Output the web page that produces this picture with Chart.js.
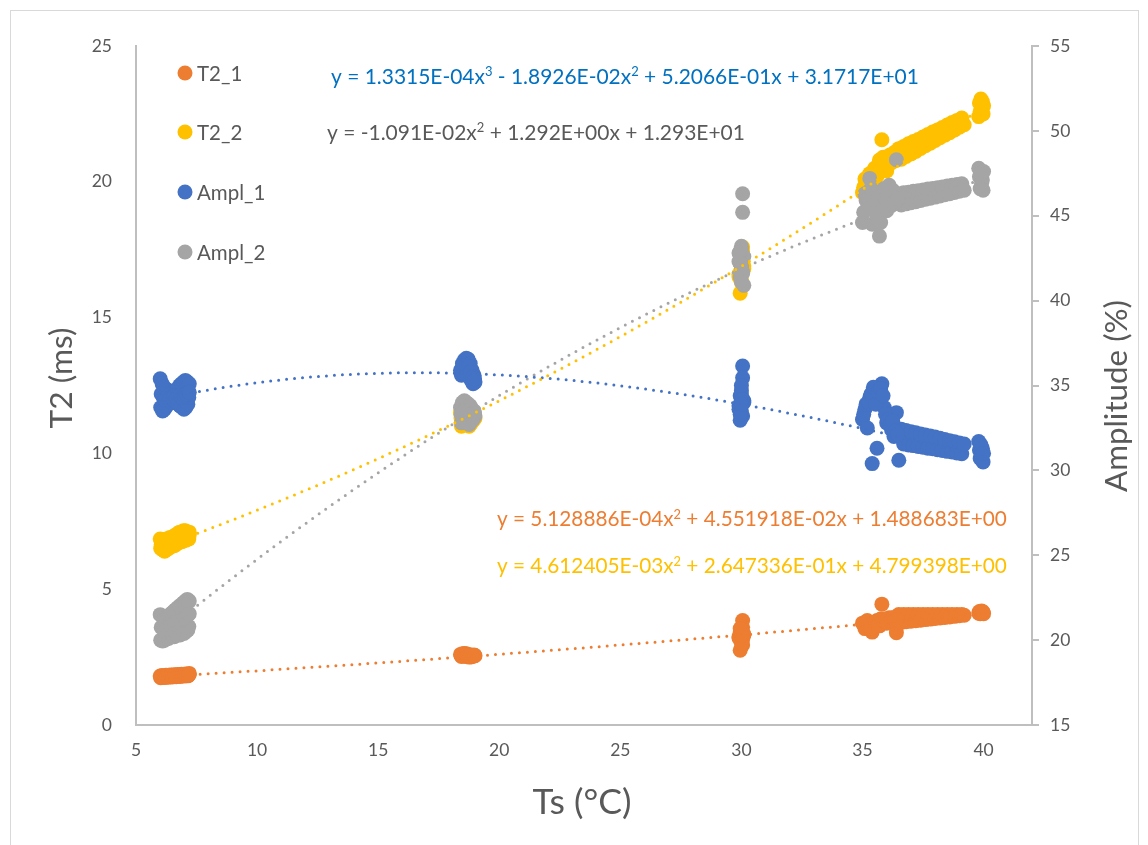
<!DOCTYPE html>
<html>
<head>
<meta charset="utf-8">
<script src="https://cdn.jsdelivr.net/npm/chart.js@4.4.1/dist/chart.umd.min.js"></script>
<style>
  html, body { margin: 0; padding: 0; background: #ffffff; }
  canvas { display: block; }
</style>
</head>
<body>
<canvas id="chart" width="1148" height="845"></canvas>
<script>
// Sample temperature Ts (°C), shared by all four measured series
const ts = [
  // ~6 °C
  6.0, 6.08, 6.16, 6.24, 6.32, 6.4, 6.48, 6.56, 6.64, 6.72, 6.8, 6.88, 6.96, 7.04, 7.12, 7.2,
  6.02, 6.1, 6.18, 6.26, 6.34, 6.42, 6.5, 6.58, 6.66, 6.74, 6.82, 6.9, 6.98, 7.06, 7.14, 7.18,
  6.04, 6.12, 6.2, 6.28, 6.36, 6.44, 6.52, 6.6, 6.68, 6.76, 6.84, 6.92, 7.0, 7.08, 7.16, 7.2,
  // ~18.7 °C
  18.4, 18.48, 18.56, 18.64, 18.72, 18.8, 18.88, 18.96,
  18.44, 18.52, 18.6, 18.68, 18.76, 18.84, 18.92, 19.0,
  18.42, 18.5, 18.58, 18.66, 18.74, 18.82, 18.9, 18.98,
  // ~30 °C
  30.05, 30.05, 30.0, 29.95, 30.1, 29.9, 30.0, 30.05, 29.95, 30.0, 30.1, 29.9, 29.95, 30.05, 30.0, 30.0,
  // 35 - 39.2 °C ramp
  35.0, 35.1, 35.2, 35.3, 35.4, 35.5, 35.6, 35.7, 35.8, 35.9,
  36.0, 36.1, 36.2, 36.3, 36.4, 36.5, 36.6, 36.7, 36.8, 36.9,
  37.0, 37.1, 37.2, 37.3, 37.4, 37.5, 37.6, 37.7, 37.8, 37.9,
  38.0, 38.1, 38.2, 38.3, 38.4, 38.5, 38.6, 38.7, 38.8, 38.9,
  39.0, 39.1, 39.2,
  35.05, 35.15, 35.25, 35.35, 35.45, 35.55, 35.65, 35.75, 35.85, 35.95,
  36.05, 36.15, 36.25, 36.35, 36.45,
  // ~40 °C
  39.8, 39.83, 39.86, 39.89, 39.92, 39.95, 39.98, 40.0
];

// T2 relaxation times (ms), left axis
const t2_1 = [
  1.80, 1.82, 1.80, 1.83, 1.82, 1.84, 1.83, 1.85, 1.84, 1.86, 1.85, 1.87, 1.86, 1.88, 1.87, 1.90,
  1.74, 1.76, 1.75, 1.77, 1.76, 1.78, 1.77, 1.79, 1.78, 1.80, 1.79, 1.81, 1.80, 1.82, 1.81, 1.84,
  1.77, 1.79, 1.78, 1.80, 1.79, 1.81, 1.80, 1.82, 1.81, 1.83, 1.82, 1.84, 1.83, 1.85, 1.84, 1.87,
  2.60, 2.62, 2.63, 2.62, 2.60, 2.58, 2.57, 2.58,
  2.52, 2.54, 2.53, 2.52, 2.50, 2.51, 2.53, 2.55,
  2.56, 2.58, 2.58, 2.57, 2.55, 2.55, 2.55, 2.56,
  3.85, 3.6, 3.5, 3.4, 3.3, 3.2, 3.1, 2.95, 2.75, 3.45, 3.35, 3.25, 3.55, 3.15, 3.0, 3.3,
  3.75, 3.55, 3.85, 3.6, 3.42, 3.75, 3.85, 3.65, 4.45, 3.9,
  3.75, 3.95, 3.8, 3.95, 3.4, 4.07, 3.78, 4.07, 3.80, 4.07,
  3.82, 4.07, 3.84, 4.07, 3.86, 4.07, 3.88, 4.07, 3.90, 4.07,
  3.92, 4.07, 3.94, 4.07, 3.96, 4.07, 3.98, 4.07, 4.0, 4.07,
  4.02, 4.07, 4.04,
  3.7, 3.8, 3.65, 3.55, 3.75, 3.8, 3.7, 3.9, 3.85, 3.8,
  3.9, 3.85, 3.95, 3.88, 3.9,
  4.12, 4.18, 4.1, 4.15, 4.2, 4.12, 4.16, 4.1
];
const t2_2 = [
  6.85, 6.8, 6.8, 6.85, 6.85, 6.9, 6.9, 6.95, 7.0, 7.05, 7.1, 7.1, 7.15, 7.15, 7.1, 7.1,
  6.5, 6.45, 6.4, 6.45, 6.5, 6.55, 6.6, 6.6, 6.65, 6.7, 6.75, 6.75, 6.8, 6.8, 6.85, 6.85,
  6.65, 6.6, 6.6, 6.65, 6.7, 6.7, 6.75, 6.8, 6.8, 6.85, 6.9, 6.95, 6.95, 7.0, 7.0, 7.0,
  11.5, 11.6, 11.5, 11.4, 11.5, 11.6, 11.5, 11.4,
  11.0, 11.1, 11.2, 11.1, 11.0, 11.1, 11.2, 11.3,
  11.3, 11.3, 11.35, 11.3, 11.25, 11.3, 11.35, 11.3,
  17.6, 17.45, 17.2, 17.0, 16.8, 16.6, 16.4, 16.2, 15.9, 17.3, 16.9, 16.5, 17.1, 16.7, 17.4, 16.3,
  19.6, 20.1, 19.8, 20.3, 19.9, 20.5, 20.2, 20.8, 21.55, 20.6,
  20.4, 20.9, 20.7, 21.0, 20.8, 21.22, 20.83, 21.30, 20.93, 21.40,
  21.03, 21.48, 21.12, 21.56, 21.23, 21.65, 21.33, 21.74, 21.42, 21.83,
  21.52, 21.91, 21.62, 22.0, 21.72, 22.09, 21.81, 22.18, 21.91, 22.26,
  22.01, 22.35, 22.10,
  19.8, 20.0, 20.2, 20.0, 20.4, 20.3, 20.6, 20.5, 20.9, 20.7,
  20.8, 21.0, 20.9, 21.1, 20.95,
  22.4, 22.9, 22.6, 23.05, 22.7, 22.95, 22.5, 22.8
];

// Signal amplitudes (%), right axis
const ampl_1 = [
  35.4, 35.1, 34.9, 34.8, 34.7, 34.6, 34.6, 34.6, 34.7, 34.8, 35.0, 35.1, 35.2, 35.3, 35.2, 35.1,
  33.7, 33.5, 33.6, 33.8, 33.9, 34.0, 34.0, 34.1, 34.0, 33.9, 33.8, 33.7, 33.6, 33.7, 33.9, 34.3,
  34.5, 34.3, 34.2, 34.3, 34.4, 34.3, 34.3, 34.4, 34.3, 34.4, 34.4, 34.3, 34.4, 34.5, 34.6, 34.6,
  35.9, 36.3, 36.5, 36.6, 36.55, 36.3, 35.9, 35.6,
  35.6, 35.9, 35.9, 35.8, 35.6, 35.3, 35.1, 35.2,
  35.75, 36.1, 36.2, 36.2, 36.1, 35.8, 35.5, 35.4,
  36.15, 35.45, 34.7, 34.4, 34.1, 33.8, 33.5, 33.2, 32.95, 34.5, 34.0, 33.6, 33.3, 34.2, 33.9, 35.0,
  33.0, 33.6, 32.5, 34.3, 30.4, 34.8, 31.3, 34.1, 35.1, 33.7,
  32.8, 33.3, 32.4, 32.0, 33.4, 30.6, 32.42, 31.56, 32.35, 31.50,
  32.28, 31.46, 32.22, 31.41, 32.15, 31.36, 32.08, 31.31, 32.02, 31.27,
  31.96, 31.22, 31.89, 31.17, 31.82, 31.12, 31.75, 31.08, 31.69, 31.03,
  31.62, 30.98, 31.55,
  33.3, 33.9, 34.0, 34.5, 34.9, 33.9, 34.6, 34.8, 34.4, 33.3,
  33.0, 32.7, 32.9, 32.3, 32.1,
  31.7, 31.2, 30.7, 31.5, 30.9, 31.3, 30.5, 31.0
];
const ampl_2 = [
  21.5, 21.4, 21.3, 21.3, 21.4, 21.5, 21.6, 21.7, 21.8, 21.9, 22.0, 22.1, 22.2, 22.3, 22.4, 22.3,
  20.0, 19.95, 20.0, 20.1, 20.1, 20.2, 20.2, 20.2, 20.3, 20.3, 20.3, 20.4, 20.4, 20.5, 20.6, 20.8,
  20.75, 20.7, 20.65, 20.7, 20.75, 20.85, 20.9, 20.95, 21.05, 21.1, 21.15, 21.25, 21.3, 21.4, 21.5, 21.55,
  33.7, 34.0, 34.1, 34.0, 33.9, 33.8, 33.6, 33.5,
  32.8, 32.9, 33.0, 32.8, 32.7, 32.9, 33.0, 33.2,
  33.3, 33.45, 33.5, 33.45, 33.3, 33.3, 33.3, 33.35,
  46.3, 45.2, 43.2, 42.9, 42.6, 42.3, 42.0, 41.7, 41.4, 41.1, 40.9, 42.8, 42.2, 41.6, 43.0, 41.9,
  44.6, 46.3, 45.4, 47.2, 44.5, 46.4, 45.0, 43.8, 45.8, 46.6,
  45.3, 46.8, 45.6, 46.3, 48.3, 46.30, 45.63, 46.35, 45.70, 46.39,
  45.77, 46.44, 45.83, 46.48, 45.90, 46.52, 45.97, 46.57, 46.03, 46.61,
  46.10, 46.65, 46.17, 46.70, 46.24, 46.75, 46.30, 46.79, 46.37, 46.84,
  46.44, 46.88, 46.50,
  45.2, 45.9, 46.0, 46.6, 45.6, 45.2, 46.1, 44.6, 45.4, 46.0,
  46.2, 45.9, 46.5, 45.8, 46.0,
  47.8, 47.3, 46.6, 47.5, 46.9, 47.1, 46.5, 47.6
];

const seriesNames = ['T2_1', 'T2_2', 'Ampl_1', 'Ampl_2'];

// Polynomial trend coefficients, highest power first
const fitT2_1 = [5.128886E-04, 4.551918E-02, 1.488683E+00];
const fitT2_2 = [4.612405E-03, 2.647336E-01, 4.799398E+00];
const fitAmpl_1 = [1.3315E-04, -1.8926E-02, 5.2066E-01, 3.1717E+01];
const fitAmpl_2 = [-1.091E-02, 1.292E+00, 1.293E+01];
// Decimals shown in each trend equation
const fitDigits = [6, 6, 4, 3];

// Axis ticks
const tsTicks = [5, 10, 15, 20, 25, 30, 35, 40];
const t2Ticks = [0, 5, 10, 15, 20, 25];
const amplTicks = [15, 20, 25, 30, 35, 40, 45, 50, 55];

// ---------------------------------------------------------------------------
const FONT = 'Lato';
const TEXT = '#595959';
const AXIS = '#BFBFBF';
const colors = ['#ED7D31', '#FFC000', '#4472C4', '#A5A5A5'];
const eqColors = ['#ED7D31', '#FFC000', '#0070C0', '#595959'];
const values = [t2_1, t2_2, ampl_1, ampl_2];
const fits = [fitT2_1, fitT2_2, fitAmpl_1, fitAmpl_2];
const axisIds = ['yT2', 'yT2', 'yAmpl', 'yAmpl'];

const tsMin = Math.min(...ts);
const tsMax = Math.max(...ts);

function polyAt(coef, x) {
  return coef.reduce((acc, c) => acc * x + c, 0);
}
function trendPoints(coef) {
  const pts = [];
  const n = 240;
  for (let k = 0; k <= n; k++) {
    const x = tsMin + (tsMax - tsMin) * k / n;
    pts.push({ x, y: polyAt(coef, x) });
  }
  return pts;
}

// Excel style number text, e.g. 1.3315E-04
function sci(v, d) {
  const [m, e] = Math.abs(v).toExponential(d).split('e');
  const n = parseInt(e, 10);
  return m + 'E' + (n < 0 ? '-' : '+') + String(Math.abs(n)).padStart(2, '0');
}
function equationParts(coef, d) {
  const deg = coef.length - 1;
  const parts = [['y = ', false]];
  coef.forEach((c, i) => {
    const p = deg - i;
    let s = i === 0 ? (c < 0 ? '-' : '') + sci(c, d) : (c < 0 ? ' - ' : ' + ') + sci(c, d);
    if (p >= 1) s += 'x';
    parts.push([s, false]);
    if (p >= 2) parts.push([String(p), true]);
  });
  return parts;
}

const datasets = [];
// measured points; later series sit above earlier ones
values.forEach((v, i) => {
  datasets.push({
    label: seriesNames[i],
    data: ts.map((x, k) => ({ x, y: v[k] })),
    yAxisID: axisIds[i],
    backgroundColor: colors[i],
    borderColor: colors[i],
    borderWidth: 0,
    pointRadius: 7.5,
    pointHoverRadius: 7.5,
    order: 4 - i
  });
});
// dotted polynomial trend lines on top of the markers
fits.forEach((coef, i) => {
  datasets.push({
    label: seriesNames[i] + ' trend',
    data: trendPoints(coef),
    yAxisID: axisIds[i],
    showLine: true,
    pointRadius: 0,
    pointHoverRadius: 0,
    borderColor: colors[i],
    borderWidth: 3,
    borderDash: [0, 8],
    borderCapStyle: 'round',
    fill: false,
    order: 0
  });
});

function drawFitted(ctx, parts, x, yMid, width, color, baseSize) {
  const measure = (size) => parts.reduce((w, [t, sup]) => {
    ctx.font = (sup ? size * 0.62 : size) + 'px ' + FONT;
    return w + ctx.measureText(t).width;
  }, 0);
  const size = baseSize * width / measure(baseSize);
  ctx.fillStyle = color;
  ctx.textAlign = 'left';
  ctx.textBaseline = 'alphabetic';
  const base = yMid + size * 0.36;
  let cx = x;
  parts.forEach(([t, sup]) => {
    ctx.font = (sup ? size * 0.62 : size) + 'px ' + FONT;
    ctx.fillText(t, cx, sup ? base - size * 0.38 : base);
    cx += ctx.measureText(t).width;
  });
}

function drawTitle(ctx, text, cx, cy, width, rotate) {
  ctx.save();
  ctx.translate(cx, cy);
  if (rotate) ctx.rotate(-Math.PI / 2);
  ctx.font = '28px ' + FONT;
  const size = 28 * width / ctx.measureText(text).width;
  ctx.font = size + 'px ' + FONT;
  ctx.fillStyle = TEXT;
  ctx.textAlign = 'center';
  ctx.textBaseline = 'middle';
  ctx.fillText(text, 0, 0);
  ctx.restore();
}

const annotations = {
  id: 'annotations',
  afterDraw(chart) {
    const ctx = chart.ctx;
    ctx.save();

    // chart frame
    ctx.strokeStyle = '#D9D9D9';
    ctx.lineWidth = 1;
    ctx.strokeRect(10.5, 10.5, 1128, 850);

    // legend
    const legendY = [73, 132, 192, 252];
    seriesNames.forEach((name, i) => {
      ctx.beginPath();
      ctx.arc(185, legendY[i], 7.5, 0, Math.PI * 2);
      ctx.fillStyle = colors[i];
      ctx.fill();
      ctx.font = '20.5px ' + FONT;
      ctx.fillStyle = TEXT;
      ctx.textAlign = 'left';
      ctx.textBaseline = 'middle';
      ctx.fillText(name, 197, legendY[i] + 1);
    });

    // trend equations: [series index, left, middle y, width]
    const eqPlace = [
      [2, 331, 76, 588],
      [3, 327, 132, 418],
      [0, 497, 519, 510],
      [1, 497, 566, 510]
    ];
    eqPlace.forEach(([i, x, y, w]) => {
      drawFitted(ctx, equationParts(fits[i], fitDigits[i]), x, y, w, eqColors[i], 19);
    });

    // axis titles
    drawTitle(ctx, 'T2 (ms)', 62, 378, 101, true);
    drawTitle(ctx, 'Amplitude (%)', 1117, 396, 192, true);
    drawTitle(ctx, 'Ts (\u00B0C)', 582, 803, 99, false);

    ctx.restore();
  }
};

const tickFont = { family: FONT, size: 17.5 };

new Chart(document.getElementById('chart'), {
  type: 'scatter',
  data: { datasets },
  options: {
    responsive: false,
    animation: false,
    events: [],
    layout: { padding: { top: 46, left: 0, right: 0, bottom: 0 } },
    plugins: {
      legend: { display: false },
      tooltip: { enabled: false }
    },
    scales: {
      x: {
        type: 'linear',
        min: 5,
        max: 42,
        afterBuildTicks: (s) => { s.ticks = tsTicks.map((v) => ({ value: v })); },
        afterFit: (s) => { s.height = 120; },
        grid: { display: false, drawTicks: false },
        border: { display: true, color: AXIS, width: 2 },
        ticks: { font: tickFont, color: TEXT, padding: 15 }
      },
      yT2: {
        type: 'linear',
        position: 'left',
        min: 0,
        max: 25,
        afterBuildTicks: (s) => { s.ticks = t2Ticks.map((v) => ({ value: v })); },
        afterFit: (s) => { s.width = 136; },
        grid: { display: false, drawTicks: false },
        border: { display: true, color: AXIS, width: 2 },
        ticks: { font: tickFont, color: TEXT, padding: 24 }
      },
      yAmpl: {
        type: 'linear',
        position: 'right',
        min: 15,
        max: 55,
        afterBuildTicks: (s) => { s.ticks = amplTicks.map((v) => ({ value: v })); },
        afterFit: (s) => { s.width = 116; },
        grid: { display: true, drawOnChartArea: false, drawTicks: true, tickLength: 7, color: AXIS, lineWidth: 2 },
        border: { display: true, color: AXIS, width: 2 },
        ticks: { font: tickFont, color: TEXT, padding: 11 }
      }
    }
  },
  plugins: [annotations]
});
</script>
</body>
</html>
